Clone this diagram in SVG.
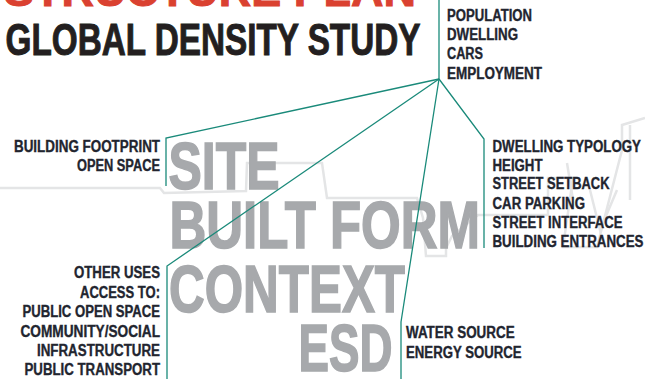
<svg xmlns="http://www.w3.org/2000/svg" width="645" height="379" viewBox="0 0 645 379">
<style>
.lbl{font-family:"Liberation Sans",Arial,sans-serif;font-weight:bold;font-size:15.8px;fill:#22252f;stroke:#22252f;stroke-width:0.35}
.big{font-family:"Liberation Sans",Arial,sans-serif;font-weight:bold;font-size:66px;fill:#a7a9ac;stroke:#a7a9ac;stroke-width:1.6}
.ttl{font-family:"Liberation Sans",Arial,sans-serif;font-weight:bold;font-size:44.5px;stroke-width:1}
.con{fill:none;stroke:#1a8a7a;stroke-width:1.3}
.sky{fill:none;stroke:#e4e5e6;stroke-width:2.5;stroke-linejoin:miter}
</style>
<rect width="645" height="379" fill="#ffffff"/>
<g id="skyline">
<path class="sky" d="M0,188 L160,188 L164,193 L246,191 L247,163 L322,163 L327,198 L417,198 L423,218 L426,256 L446,256 L446,248 L452,236 L478,215 L548,215 L548,178 L573,178 L563,247 L597,247 L622,150 L622,125 L645,118"/>
<path class="sky" d="M630,125 L630,200 M567,163 L573,200 M590,190 L600,230 L617,190"/>
</g>
<g id="title">
<text class="ttl" x="4" y="5.5" fill="#da4130" stroke="#da4130" textLength="412" lengthAdjust="spacingAndGlyphs">STRUCTURE PLAN</text>
<text class="ttl" x="5.5" y="54.7" fill="#231f20" stroke="#231f20" textLength="415" lengthAdjust="spacingAndGlyphs">GLOBAL DENSITY STUDY</text>
</g>
<g id="big-words">
<text id="site" class="big" x="168.5" y="188.8" textLength="111" lengthAdjust="spacingAndGlyphs">SITE</text>
<text id="built-form" class="big" x="169.5" y="247.8" textLength="310.5" lengthAdjust="spacingAndGlyphs">BUILT FORM</text>
<text id="context" class="big" x="169" y="312.2" textLength="236" lengthAdjust="spacingAndGlyphs">CONTEXT</text>
<text id="esd" class="big" x="298.5" y="371.2" textLength="94" lengthAdjust="spacingAndGlyphs">ESD</text>
</g>
<g id="connectors">
<path class="con" d="M439,0 L439,79"/>
<path class="con" d="M439,79 L166,138 L166,186"/>
<path class="con" d="M439,79 L167,266 L167,379"/>
<path class="con" d="M439,79 L401,322 L401,379"/>
<path class="con" d="M439,79 L484,139 L484,248"/>
</g>
<g id="global-list">
<text class="lbl" x="447" y="20.7" textLength="85" lengthAdjust="spacingAndGlyphs">POPULATION</text>
<text class="lbl" x="447" y="40" textLength="71" lengthAdjust="spacingAndGlyphs">DWELLING</text>
<text class="lbl" x="447" y="59.3" textLength="36" lengthAdjust="spacingAndGlyphs">CARS</text>
<text class="lbl" x="447" y="78.6" textLength="95" lengthAdjust="spacingAndGlyphs">EMPLOYMENT</text>
</g>
<g id="site-list">
<text class="lbl" x="160" y="152" text-anchor="end" textLength="146" lengthAdjust="spacingAndGlyphs">BUILDING FOOTPRINT</text>
<text class="lbl" x="160" y="171.3" text-anchor="end" textLength="83" lengthAdjust="spacingAndGlyphs">OPEN SPACE</text>
</g>
<g id="built-form-list">
<text class="lbl" x="492.5" y="151.7" textLength="148.5" lengthAdjust="spacingAndGlyphs">DWELLING TYPOLOGY</text>
<text class="lbl" x="492.5" y="170.5" textLength="50" lengthAdjust="spacingAndGlyphs">HEIGHT</text>
<text class="lbl" x="492.5" y="189.3" textLength="117" lengthAdjust="spacingAndGlyphs">STREET SETBACK</text>
<text class="lbl" x="492.5" y="208.5" textLength="92.5" lengthAdjust="spacingAndGlyphs">CAR PARKING</text>
<text class="lbl" x="492.5" y="227.5" textLength="130" lengthAdjust="spacingAndGlyphs">STREET INTERFACE</text>
<text class="lbl" x="492.5" y="246.7" textLength="151" lengthAdjust="spacingAndGlyphs">BUILDING ENTRANCES</text>
</g>
<g id="context-list">
<text class="lbl" x="160" y="278.3" text-anchor="end" textLength="86" lengthAdjust="spacingAndGlyphs">OTHER USES</text>
<text class="lbl" x="160" y="297.7" text-anchor="end" textLength="80" lengthAdjust="spacingAndGlyphs">ACCESS TO:</text>
<text class="lbl" x="160" y="316.9" text-anchor="end" textLength="137.5" lengthAdjust="spacingAndGlyphs">PUBLIC OPEN SPACE</text>
<text class="lbl" x="160" y="336.5" text-anchor="end" textLength="139.5" lengthAdjust="spacingAndGlyphs">COMMUNITY/SOCIAL</text>
<text class="lbl" x="160" y="356" text-anchor="end" textLength="123" lengthAdjust="spacingAndGlyphs">INFRASTRUCTURE</text>
<text class="lbl" x="160" y="375" text-anchor="end" textLength="135.5" lengthAdjust="spacingAndGlyphs">PUBLIC TRANSPORT</text>
</g>
<g id="esd-list">
<text class="lbl" x="406" y="338.3" textLength="108.6" lengthAdjust="spacingAndGlyphs">WATER SOURCE</text>
<text class="lbl" x="406" y="357.7" textLength="115.6" lengthAdjust="spacingAndGlyphs">ENERGY SOURCE</text>
</g>
</svg>
